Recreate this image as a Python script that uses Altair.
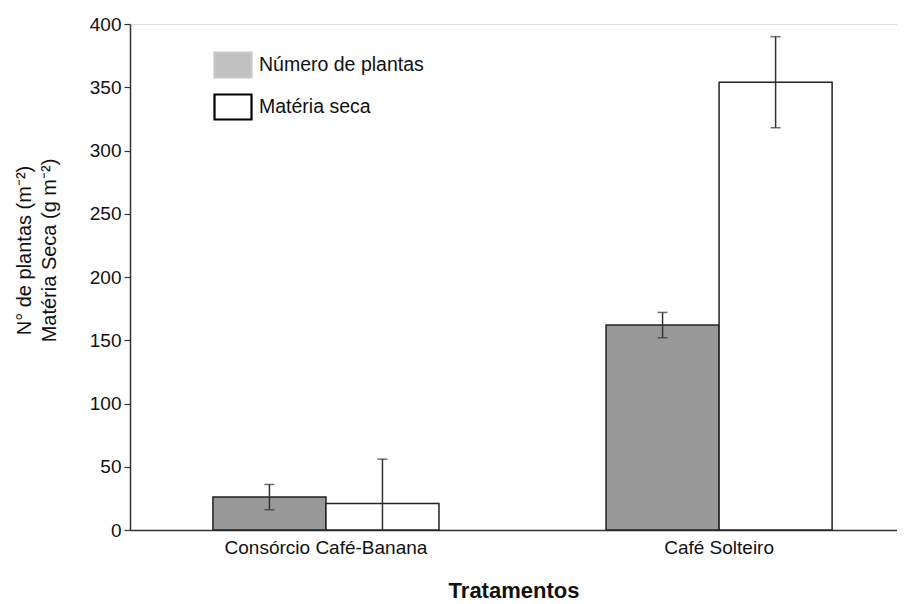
import altair as alt
import pandas as pd

treatments = ["Consórcio Café-Banana", "Café Solteiro"]
series = ["Número de plantas", "Matéria seca"]
plantas = [26, 162]
plantas_err = [10, 10]
materia = [21, 354]
materia_err = [35, 36]

rows = []
for i, t in enumerate(treatments):
    rows.append(dict(trat=t, serie=series[0], v=plantas[i], e=plantas_err[i]))
    rows.append(dict(trat=t, serie=series[1], v=materia[i], e=materia_err[i]))
df = pd.DataFrame(rows)
df["hi"] = df["v"] + df["e"]
df["lo"] = (df["v"] - df["e"]).clip(lower=0)

caps = []
for _, r in df.iterrows():
    caps.append(dict(trat=r.trat, serie=r.serie, c=r.v + r.e))
    if r.v - r.e >= 0:
        caps.append(dict(trat=r.trat, serie=r.serie, c=r.v - r.e))
caps_df = pd.DataFrame(caps)

FONT = "Liberation Sans"

xenc = alt.X(
    "trat:N",
    sort=treatments,
    scale=alt.Scale(paddingInner=0.425, paddingOuter=0.188, align=0.561),
    axis=alt.Axis(
        title="Tratamentos",
        labelAngle=0,
        ticks=False,
        labelPadding=8,
        labelLimit=0,
        labelFontSize=19,
        labelFont=FONT,
        labelColor="#111111",
        titleFont=FONT,
        titleFontSize=22,
        titleFontWeight="bold",
        titleColor="#111111",
        titleY=67,
        titleBaseline="alphabetic",
        domainColor="#333333",
        domainWidth=1.5,
    ),
)
xoff = alt.XOffset("serie:N", sort=series, scale=alt.Scale(paddingInner=0, paddingOuter=0))

yscale = alt.Scale(domain=[0, 400], nice=False)

bars = alt.Chart(df).mark_bar(stroke="#222222", strokeWidth=1.5).encode(
    x=xenc,
    xOffset=xoff,
    y=alt.Y(
        "v:Q",
        scale=yscale,
        axis=alt.Axis(
            title=["N° de plantas (m⁻²)", "Matéria Seca (g m⁻²)"],
            values=list(range(0, 401, 50)),
            grid=False,
            tickSize=6,
            tickColor="#333333",
            tickWidth=1.2,
            labelPadding=3,
            labelFontSize=19,
            labelFont=FONT,
            labelColor="#111111",
            titleFont=FONT,
            titleFontSize=20,
            titleFontWeight="normal",
            titleColor="#111111",
            titleLineHeight=25,
            titleX=-96,
            titleY=226,
            titleAlign="center",
            titleLimit=0,
            domainColor="#333333",
            domainWidth=1.5,
        ),
    ),
    fill=alt.Fill(
        "serie:N",
        sort=series,
        scale=alt.Scale(domain=series, range=["#999999", "#ffffff"]),
        legend=None,
    ),
)

rules = alt.Chart(df).mark_rule(color="#333333", strokeWidth=1.5).encode(
    x=alt.X("trat:N", sort=treatments),
    xOffset=alt.XOffset("serie:N", sort=series),
    y=alt.Y("lo:Q", scale=yscale),
    y2="hi:Q",
)

cap_marks = alt.Chart(caps_df).mark_tick(color="#333333", thickness=1.5, size=10).encode(
    x=alt.X("trat:N", sort=treatments),
    xOffset=alt.XOffset("serie:N", sort=series),
    y=alt.Y("c:Q", scale=yscale),
)

leg = alt.Legend(
    orient="none",
    legendX=83,
    legendY=21,
    symbolType="M-1,-0.676L1,-0.676L1,0.676L-1,0.676Z",
    symbolSize=1369,
    symbolStrokeWidth=2.2,
    symbolOpacity=1,
    labelFont=FONT,
    labelFontSize=19.5,
    labelColor="#111111",
    labelOffset=6,
    labelLimit=0,
    rowPadding=5,
    padding=0,
)

legend_layer = alt.Chart(df).mark_rect().transform_filter("datum.v < -1").encode(
    fill=alt.Fill(
        "serie:N",
        title=None,
        scale=alt.Scale(domain=series, range=["#c0c0c0", "#ffffff"]),
        legend=leg,
    ),
    stroke=alt.Stroke(
        "serie:N",
        title=None,
        scale=alt.Scale(domain=series, range=["#c8c8c8", "#000000"]),
        legend=leg,
    ),
)

chart = (
    alt.layer(bars, rules, cap_marks, legend_layer)
    .resolve_scale(fill="independent", stroke="independent")
    .properties(
        width=767,
        height=506,
        padding={"left": 122, "top": 16, "right": 0, "bottom": 80},
        autosize=alt.AutoSizeParams(type="none"),
    )
    .configure_view(stroke=None)
    .configure(background="white")
)

chart.save("out.html", embed_options={"renderer": "svg", "actions": False})
